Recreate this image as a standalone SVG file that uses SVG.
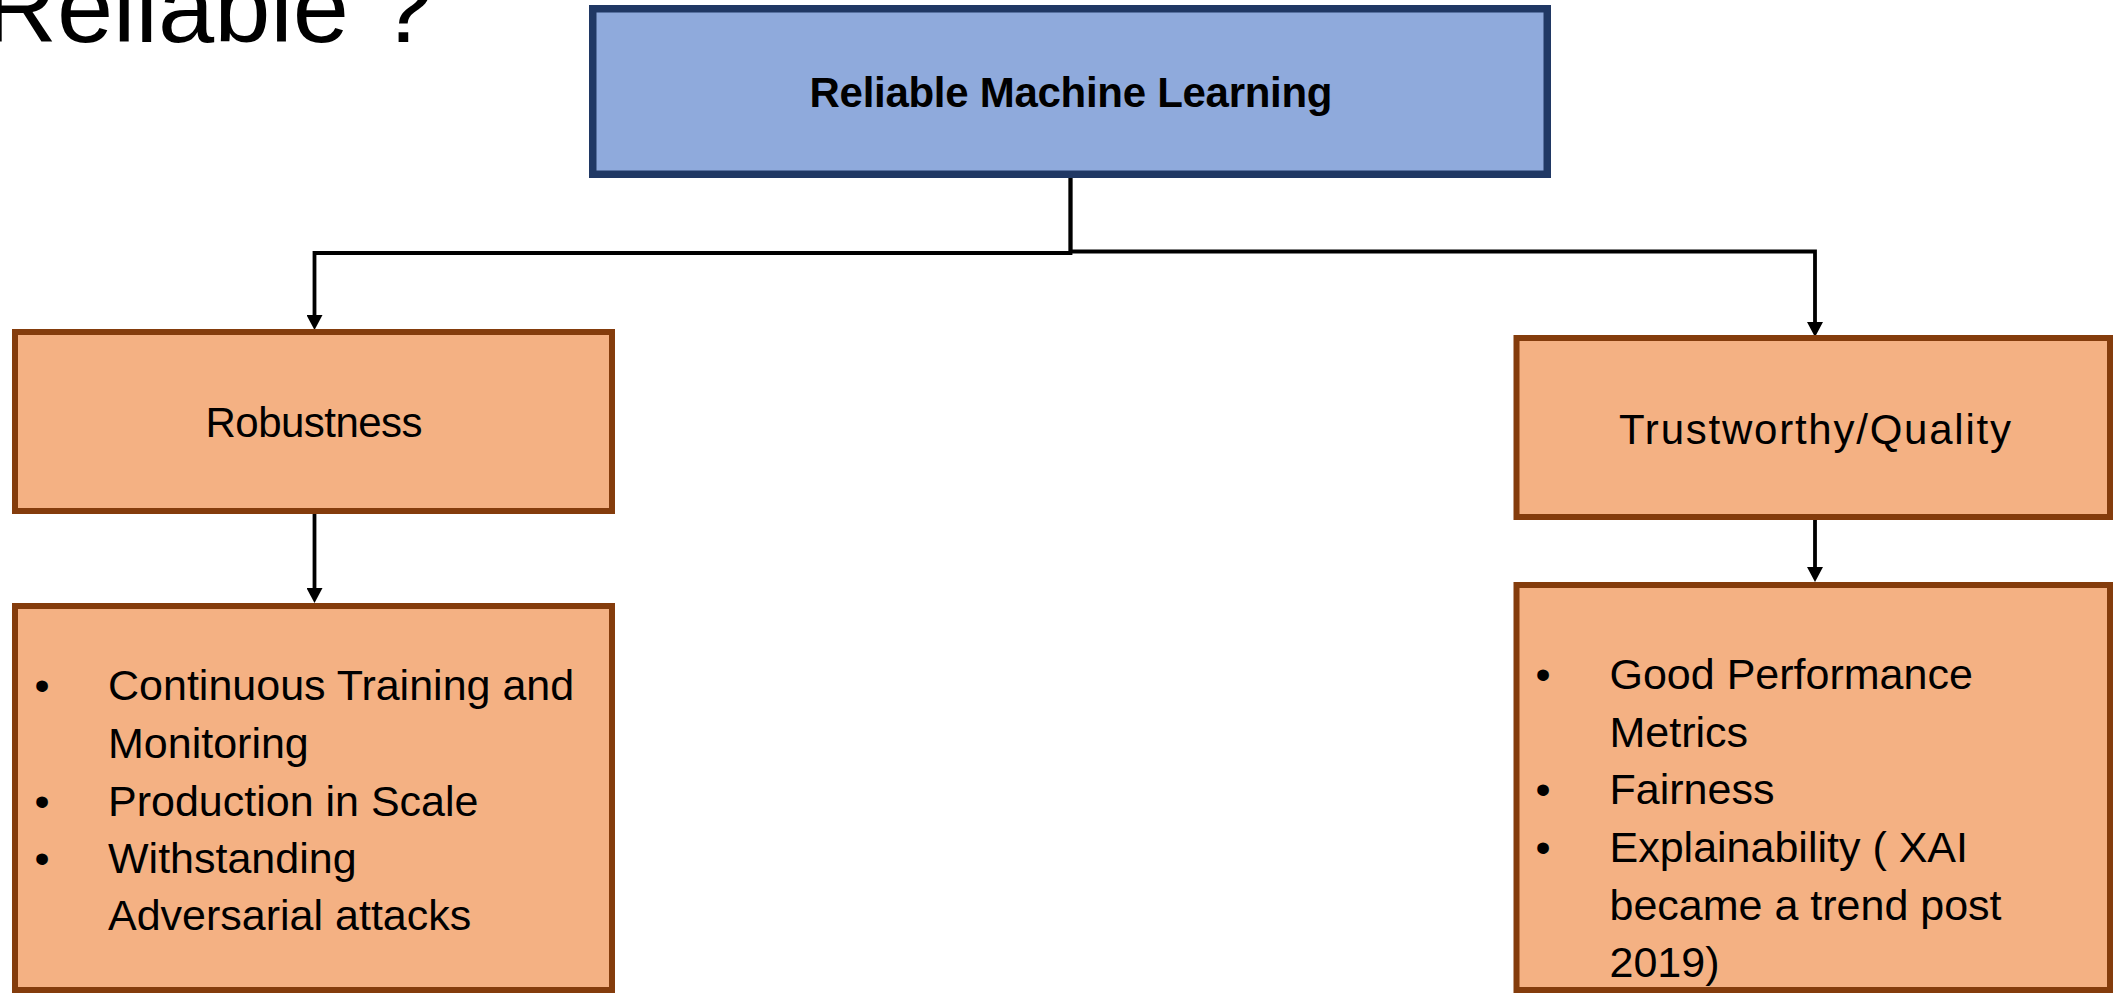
<svg xmlns="http://www.w3.org/2000/svg" width="2113" height="993" viewBox="0 0 2113 993">
  <style>
    .blue { fill: #8FAADC; stroke: #203864; stroke-width: 7.5; }
    .orange { fill: #F4B183; stroke: #843C0C; stroke-width: 6; }
    .lbl { font-family: "Liberation Sans", Arial, sans-serif; fill: #000; }
    .head { font-size: 42px; text-anchor: middle; }
    .item { font-size: 43px; }
    .bul { font-size: 43px; text-anchor: middle; }
    .conn { fill: none; stroke: #000; stroke-width: 3.8; marker-end: url(#arrow); }
  </style>
  <defs>
    <marker id="arrow" markerUnits="userSpaceOnUse" viewBox="0 0 15 16" markerWidth="15" markerHeight="16" refX="6" refY="8" orient="auto">
      <path d="M0,0 L15,8 L0,16 z" fill="#000"/>
    </marker>
  </defs>
  <rect width="2113" height="993" fill="#FFFFFF"/>

  <text id="title" class="lbl" x="-16" y="42" font-size="101">Reliable ?</text>

  <g id="connectors">
    <path class="conn" d="M1070.5,176 V253 H314.5 V321"/>
    <path class="conn" d="M1070.5,176 V251.5 H1815 V328"/>
    <path class="conn" d="M314.5,512 V594"/>
    <path class="conn" d="M1815,518 V573"/>
  </g>

  <g id="node-reliable-ml">
    <rect class="blue" x="592.75" y="8.75" width="954.5" height="165.5"/>
    <text class="lbl head" x="1071" y="107" font-weight="bold" font-size="41.5" textLength="523" lengthAdjust="spacing">Reliable Machine Learning</text>
  </g>

  <g id="node-robustness">
    <rect class="orange" x="15" y="332" width="597" height="179"/>
    <text class="lbl head" x="314" y="437" textLength="217" lengthAdjust="spacing">Robustness</text>
  </g>

  <g id="node-robustness-items">
    <rect class="orange" x="15" y="606" width="597" height="384"/>
    <text class="lbl bul" x="42" y="700">•</text>
    <text class="lbl item" x="108" y="700">Continuous Training and</text>
    <text class="lbl item" x="108" y="758">Monitoring</text>
    <text class="lbl bul" x="42" y="816">•</text>
    <text class="lbl item" x="108" y="816">Production in Scale</text>
    <text class="lbl bul" x="42" y="873">•</text>
    <text class="lbl item" x="108" y="873">Withstanding</text>
    <text class="lbl item" x="108" y="930">Adversarial attacks</text>
  </g>

  <g id="node-trustworthy">
    <rect class="orange" x="1516.5" y="338" width="593.5" height="179"/>
    <text class="lbl head" x="1815" y="444" font-size="44" textLength="392" lengthAdjust="spacing">Trustworthy/Quality</text>
  </g>

  <g id="node-trustworthy-items">
    <rect class="orange" x="1516.5" y="585" width="593.5" height="405"/>
    <text class="lbl bul" x="1543" y="689">•</text>
    <text class="lbl item" x="1609.5" y="689">Good Performance</text>
    <text class="lbl item" x="1609.5" y="747">Metrics</text>
    <text class="lbl bul" x="1543" y="804">•</text>
    <text class="lbl item" x="1609.5" y="804">Fairness</text>
    <text class="lbl bul" x="1543" y="862">•</text>
    <text class="lbl item" x="1609.5" y="862">Explainability ( XAI</text>
    <text class="lbl item" x="1609.5" y="920">became a trend post</text>
    <text class="lbl item" x="1609.5" y="977">2019)</text>
  </g>
</svg>
